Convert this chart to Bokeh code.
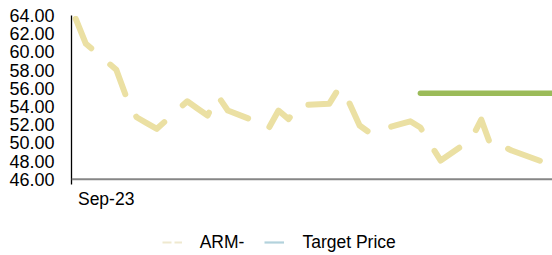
import pandas as pd
from bokeh.plotting import figure
from bokeh.models import (Range1d, FixedTicker, PrintfTickFormatter, Legend, LegendItem,
                          Span, Label)
from bokeh.embed import file_html
from bokeh.resources import INLINE

# ---- data ----
dates = ["2023-09-14", "2023-09-15", "2023-09-18", "2023-09-19", "2023-09-20", "2023-09-21",
         "2023-09-22", "2023-09-25", "2023-09-26", "2023-09-27", "2023-09-28", "2023-09-29",
         "2023-10-02", "2023-10-03", "2023-10-04", "2023-10-05", "2023-10-06", "2023-10-09",
         "2023-10-10", "2023-10-11", "2023-10-12", "2023-10-13", "2023-10-16", "2023-10-17",
         "2023-10-18", "2023-10-19", "2023-10-20", "2023-10-23", "2023-10-24", "2023-10-25",
         "2023-10-26", "2023-10-27", "2023-10-30"]
arm_price = [63.64, 60.89, 58.03, 55.01, 52.81, 52.17,
             51.54, 54.57, 53.77, 53.00, 55.19, 53.55,
             52.26, 51.54, 53.55, 52.61, 54.15, 54.29,
             56.08, 54.35, 51.90, 51.10, 52.06, 52.37,
             51.68, 49.81, 48.05, 50.36, 52.56, 49.51,
             49.70, 49.15, 47.94]
target_dates = ["2023-10-18", "2023-11-06"]
target_price = [55.45, 55.45]
y_ticks = [46, 48, 50, 52, 54, 56, 58, 60, 62, 64]
x_tick_date = "2023-09-17"
x_tick_label = "Sep-23"
series_names = ["ARM-", "Target Price"]

FONT = "Liberation Sans"
Y_MIN, Y_MAX = 46, 64

x = pd.to_datetime(dates)
tx = pd.to_datetime(target_dates)
day = pd.Timedelta(days=1)
x_start = x[0] - 0.42 * day
x_end = x_start + 47.45 * day

# frame runs from y=15px to the bottom of the picture; value axis occupies 15..178.7px
px_per_unit = (178.7 - 15) / (Y_MAX - Y_MIN)
y_bottom = Y_MIN - (255 - 178.7) / px_per_unit

p = figure(width=552, height=255, output_backend="svg", toolbar_location=None,
           x_axis_type="datetime", x_axis_location=None,
           x_range=Range1d(x_start, x_end), y_range=Range1d(y_bottom, Y_MAX),
           min_border_left=71, min_border_right=0, min_border_top=15, min_border_bottom=0)
p.outline_line_color = None
p.grid.visible = False
p.background_fill_color = "white"
p.border_fill_color = "white"

# category (date) axis line
p.add_layout(Span(location=Y_MIN, dimension="width", line_color="#868686", line_width=2))

# main series
p.line(x, arm_price, line_color="#ebe0a3", line_width=6, line_dash="34 25",
       line_cap="round", line_join="round")
# target price
p.line(tx, target_price, line_color="#9bbb59", line_width=5.5, line_cap="round")

# date label
p.add_layout(Label(x=pd.Timestamp(x_tick_date), y=Y_MIN, y_offset=-10, text=x_tick_label,
                   text_align="center", text_baseline="top", text_font=FONT,
                   text_font_size="17.5px", text_color="#000000"))

# legend proxies (legend swatches are styled differently in the original)
nan = float("nan")
r1 = p.line([x[0], x[0]], [nan, nan], line_color="#efe9cf", line_width=2.2, line_dash="9 3")
r2 = p.line([x[0], x[0]], [nan, nan], line_color="#b3d2dc", line_width=2.2)
legend = Legend(items=[LegendItem(label=series_names[0], renderers=[r1]),
                       LegendItem(label=series_names[1], renderers=[r2])],
                orientation="horizontal", location=(90.7, 2.5),
                glyph_width=20, glyph_height=14, label_standoff=18, spacing=20,
                padding=0, margin=0, border_line_color=None, background_fill_alpha=0,
                label_text_font=FONT, label_text_font_size="17.5px", label_text_color="#000000")
p.add_layout(legend, "center")

# value axis
ya = p.yaxis[0]
ya.bounds = (Y_MIN - 0.62, Y_MAX)
ya.ticker = FixedTicker(ticks=y_ticks)
ya.formatter = PrintfTickFormatter(format="%.2f")
ya.major_label_text_font = FONT
ya.major_label_text_font_size = "18px"
ya.major_label_text_color = "#000000"
ya.major_tick_out = 0
ya.major_tick_in = 0
ya.minor_tick_out = 0
ya.minor_tick_in = 0
ya.major_label_standoff = 17
ya.axis_line_color = "#000000"
ya.axis_line_width = 1.3

open("out.html", "w").write(file_html(p, INLINE))
